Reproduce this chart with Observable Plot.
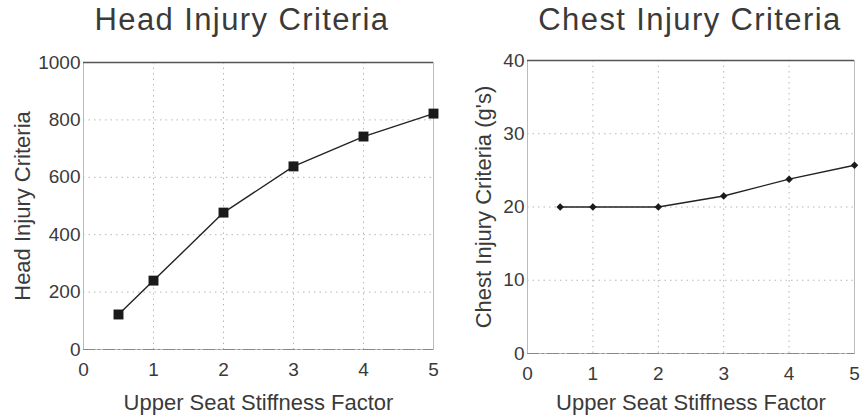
<!DOCTYPE html>
<html>
<head>
<meta charset="utf-8">
<script src="https://cdn.jsdelivr.net/npm/d3@7"></script>
<script src="https://cdn.jsdelivr.net/npm/@observablehq/plot@0.6"></script>
<style>
  html, body { margin: 0; padding: 0; background: #fff; }
  #wrap { position: relative; width: 865px; height: 420px; overflow: hidden; font-family: "Liberation Sans", Arial, sans-serif; color: #3a3a3a; }
  .title { position: absolute; top: 4px; font-size: 31px; letter-spacing: 1.4px; line-height: 31px; text-align: center; white-space: nowrap; }
  .panel { position: absolute; top: 45px; }
  .panel svg { overflow: visible; }
</style>
</head>
<body>
<div id="wrap">
  <div class="title" style="left:42px; width:400px;">Head Injury Criteria</div>
  <div class="title" style="left:490px; width:400px;">Chest Injury Criteria</div>
  <div class="panel" id="left" style="left:0px;"></div>
  <div class="panel" id="right" style="left:440px;"></div>
</div>
<script>
const stiffness = [0.5, 1, 2, 3, 4, 5];
const headInjury = [122, 240, 477, 638, 742, 822];
const chestInjury = [20, 20, 20, 21.5, 23.8, 25.7];
const xTicks = [0, 1, 2, 3, 4, 5];
const headTicks = [0, 200, 400, 600, 800, 1000];
const chestTicks = [0, 10, 20, 30, 40];
const xLabel = "Upper Seat Stiffness Factor";
const headLabel = "Head Injury Criteria";
const chestLabel = "Chest Injury Criteria (g's)";

const headData = stiffness.map((x, i) => ({x, y: headInjury[i]}));
const chestData = stiffness.map((x, i) => ({x, y: chestInjury[i]}));
const fmt = d => String(d);

function panel({data, yDomain, yTicks, yLabel, symbol, r, width, mt, mb, ml, mr, yDx, xDy}) {
  return Plot.plot({
    width, height: 375,
    marginTop: mt, marginBottom: mb, marginLeft: ml, marginRight: mr,
    style: {fontFamily: "Liberation Sans, Arial, sans-serif", fontSize: "19px", color: "#3a3a3a", background: "#fff", overflow: "visible"},
    x: {domain: [0, 5], label: null},
    y: {domain: yDomain, label: null},
    marks: [
      Plot.gridX(xTicks, {stroke: "#999", strokeOpacity: 0.7, strokeDasharray: "1.5,4"}),
      Plot.gridY(yTicks, {stroke: "#999", strokeOpacity: 0.7, strokeDasharray: "1.5,4"}),
      Plot.frame({stroke: "#bbb", strokeOpacity: 1}),
      Plot.ruleY([yDomain[1]], {stroke: "#555", strokeWidth: 1.3}),
      Plot.ruleY([yDomain[0]], {stroke: "#888", strokeWidth: 1.2, strokeDasharray: "12,3,2,3"}),
      Plot.line(data, {x: "x", y: "y", stroke: "#222", strokeWidth: 1.4}),
      Plot.dot(data, {x: "x", y: "y", symbol, r, fill: "#1a1a1a", stroke: "none"}),
      Plot.text([xLabel], {text: d => d, frameAnchor: "bottom", textAnchor: "middle", lineAnchor: "middle", dy: xDy, fontSize: 22, fill: "#3a3a3a", style: "letter-spacing:0.6px"}),
      Plot.text([yLabel], {text: d => d, frameAnchor: "left", textAnchor: "middle", lineAnchor: "middle", dx: yDx, rotate: -90, fontSize: 22, fill: "#3a3a3a", style: "letter-spacing:0.4px"}),
      Plot.axisX(xTicks, {tickSize: 0, tickPadding: 13, tickFormat: fmt, label: null}),
      Plot.axisY(yTicks, {tickSize: 0, tickPadding: 3, tickFormat: fmt, label: null})
    ]
  });
}

document.getElementById("left").append(panel({
  data: headData, yDomain: [0, 1000], yTicks: headTicks, yLabel: headLabel,
  symbol: "square", r: 5.6, width: 440, mt: 17, mb: 71, ml: 83, mr: 7, yDx: -61, xDy: 53
}));
document.getElementById("right").append(panel({
  data: chestData, yDomain: [0, 40], yTicks: chestTicks, yLabel: chestLabel,
  symbol: "diamond2", r: 3.4, width: 425, mt: 15, mb: 67, ml: 87, mr: 11, yDx: -44, xDy: 49
}));
</script>
</body>
</html>
